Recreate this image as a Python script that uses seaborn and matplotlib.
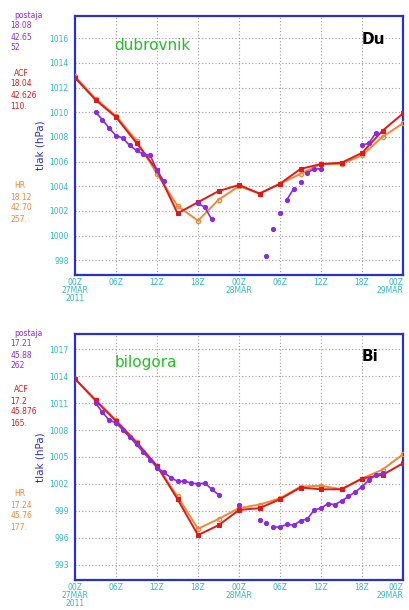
import numpy as np
import pandas as pd
import seaborn as sns
import matplotlib.pyplot as plt

# model runs every 3 hours, observations hourly (nan = break in the line)
model_hours = [0, 3, 6, 9, 12, 15, 18, 21, 24, 27, 30, 33, 36, 39, 42, 45, 48]

du_ala = [1012.8, 1011.0, 1009.6, 1007.5, 1005.3, 1001.8, 1002.7, 1003.6, 1004.1,
          1003.4, 1004.2, 1005.4, 1005.8, 1005.9, 1006.7, 1008.5, 1009.9]
du_hr = [1012.9, 1011.1, 1009.7, 1007.7, 1005.0, 1002.4, 1001.2, 1002.9, 1004.0,
         1003.4, 1004.2, 1005.0, 1005.8, 1005.8, 1006.5, 1008.0, 1009.1]
du_obs_hours = [3, 4, 5, 6, 7, 8, 9, 10, 11, 12, 13, 13.5, 18, 19, 20, 20.5,
                28, 28.5, 29, 29.5, 30, 30.5, 31, 32, 32.5, 33, 33.5, 34, 35, 36, 36.5,
                42, 43, 44]
du_obs = [1010.0, 1009.4, 1008.7, 1008.1, 1007.9, 1007.3, 1006.9, 1006.6, 1006.5, 1005.3, 1004.4, np.nan,
          1002.6, 1002.3, 1001.3, np.nan,
          998.3, np.nan, 1000.5, np.nan, 1001.8, np.nan, 1002.9, 1003.8, np.nan, 1004.3, np.nan,
          1005.1, 1005.4, 1005.4, np.nan,
          1007.3, 1007.5, 1008.3]

bi_ala = [1013.7, 1011.3, 1009.0, 1006.6, 1004.0, 1000.3, 996.3, 997.4, 999.1,
          999.3, 1000.3, 1001.6, 1001.4, 1001.4, 1002.6, 1003.0, 1004.3]
bi_hr = [1013.7, 1011.4, 1009.1, 1006.7, 1004.0, 1000.6, 997.0, 998.1, 999.3,
         999.7, 1000.4, 1001.7, 1001.8, 1001.4, 1002.6, 1003.6, 1005.3]
bi_obs_hours = [3, 4, 5, 6, 7, 8, 9, 10, 11, 12, 13, 14, 15, 16, 17, 18, 19, 20, 21, 22,
                24, 25, 27, 27.5, 28, 28.5,
                29, 30, 31, 32, 33, 34, 35, 36, 37, 38, 39, 40, 41, 42, 43, 44, 45]
bi_obs = [1011.0, 1010.0, 1009.1, 1008.8, 1008.0, 1007.2, 1006.4, 1005.5, 1004.7, 1003.8, 1003.3,
          1002.7, 1002.3, 1002.3, 1002.1, 1002.0, 1002.1, 1001.4, 1000.8, np.nan,
          999.7, np.nan, 998.0, np.nan, 997.6, np.nan,
          997.2, 997.2, 997.5, 997.4, 997.9, 998.1, 999.1, 999.3, 999.8, 999.7, 1000.1,
          1000.6, 1001.1, 1001.7, 1002.4, 1003.0, 1003.2]

xtick_hours = [0, 6, 12, 18, 24, 30, 36, 42, 48]
xtick_labels = ["00Z\n27MAR\n2011", "06Z", "12Z", "18Z", "00Z\n28MAR",
                "06Z", "12Z", "18Z", "00Z\n29MAR"]

du_yticks = [998, 1000, 1002, 1004, 1006, 1008, 1010, 1012, 1014, 1016]
bi_yticks = [993, 996, 999, 1002, 1005, 1008, 1011, 1014, 1017]

du_info = [["postaja", "18.08", "42.65", "52"],
           ["ACF", "18.04", "42.626", "110."],
           ["HR", "18.12", "42.70", "257."]]
bi_info = [["postaja", "17.21", "45.88", "262"],
           ["ACF", "17.2", "45.876", "165."],
           ["HR", "17.24", "45.76", "177."]]

C_OBS = "#8a2be2"
C_ALA = "#e01818"
C_HR = "#f08838"
C_FRAME = "#2a30c8"
C_TICK = "#30b8c0"

sns.set_style("white")
plt.rcParams["font.family"] = ["DejaVu Sans"]

fig = plt.figure(figsize=(4.09, 6.10), dpi=100)


def segments(hours, vals):
    df = pd.DataFrame({"h": hours, "p": vals})
    df["seg"] = df["p"].isna().cumsum()
    return df.dropna()


def panel(rect, obs_h, obs, ala, hr, yticks, ylim, name, short, info, info_y):
    ax = fig.add_axes(rect)
    mod = pd.DataFrame({"h": model_hours, "ala": ala, "hr": hr})
    sns.lineplot(data=mod, x="h", y="hr", ax=ax, color=C_HR, lw=1.4,
                 marker="o", ms=3, mec=C_HR, mfc="none", mew=1.0, zorder=3)
    sns.lineplot(data=mod, x="h", y="ala", ax=ax, color=C_ALA, lw=1.4,
                 marker="s", ms=2.6, mec=C_ALA, mfc=C_ALA, zorder=4)
    od = segments(obs_h, obs)
    sns.lineplot(data=od, x="h", y="p", units="seg", estimator=None, ax=ax,
                 color=C_OBS, lw=1.2, marker="o", ms=3, mec=C_OBS, mfc=C_OBS, zorder=5)

    ax.set_xlim(0, 48)
    ax.set_ylim(*ylim)
    ax.set_xticks(xtick_hours)
    ax.set_xticklabels(xtick_labels, fontsize=5.5, color=C_TICK, linespacing=0.9)
    ax.get_xticklabels()[-1].set_horizontalalignment("right")
    ax.set_yticks(yticks)
    ax.set_yticklabels([str(v) for v in yticks], fontsize=5.5, color=C_TICK)
    ax.tick_params(axis="both", length=3, width=0.8, color=C_FRAME, pad=1.5)
    ax.tick_params(axis="x", length=0, pad=2)
    ax.grid(True, color="#9a9a9a", lw=0.8, ls=(0, (1, 2)))
    for s in ax.spines.values():
        s.set_color(C_FRAME)
        s.set_linewidth(1.6)
    ax.set_xlabel("")
    ax.set_ylabel("tlak (hPa)", fontsize=7.5, color=C_FRAME, labelpad=3)

    ax.text(0.12, 0.885, name, transform=ax.transAxes, fontsize=11,
            color="#22c022", va="center")
    ax.text(0.875, 0.91, short, transform=ax.transAxes, fontsize=11,
            color="black", weight="bold", va="center")

    for lines, col, y0 in zip(info, [C_OBS, C_ALA, C_HR], info_y):
        for k, t in enumerate(lines):
            fig.text(0.025 if k else 0.035, 1 - (y0 + k * 11) / 610, t,
                     fontsize=5.5, color=col, va="center")
    return ax


panel([0.1834, 0.5492, 0.802, 0.4246], du_obs_hours, du_obs, du_ala, du_hr,
      du_yticks, (996.8, 1017.8), "dubrovnik", "Du", du_info, [15, 73, 186])
panel([0.1834, 0.0492, 0.802, 0.4033], bi_obs_hours, bi_obs, bi_ala, bi_hr,
      bi_yticks, (991.3, 1018.7), "bilogora", "Bi", bi_info, [333, 390, 494])

fig.savefig("out.png", dpi=100)
